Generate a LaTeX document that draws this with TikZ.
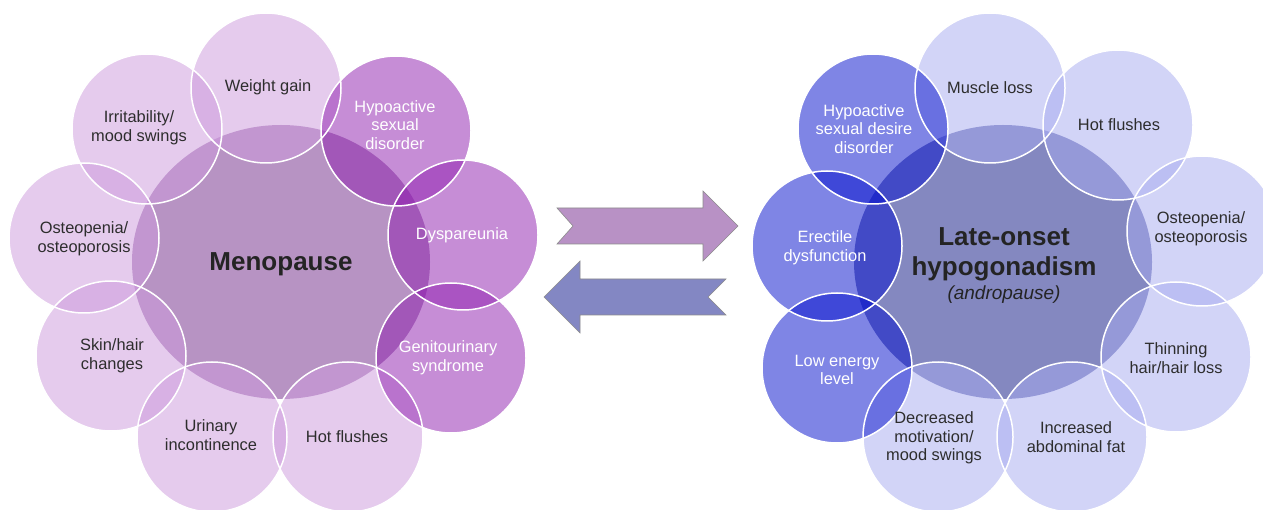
\documentclass[tikz,border=0pt]{standalone}
\usepackage{fontspec}
\setmainfont{Liberation Sans}
\usetikzlibrary{shapes.geometric}
\definecolor{mCenter}{RGB}{183,147,195}
\definecolor{mLight}{RGB}{205,153,221}
\definecolor{mDark}{RGB}{143,29,175}
\definecolor{aCenter}{RGB}{132,136,192}
\definecolor{aLight}{RGB}{167,171,241}
\definecolor{aDark}{RGB}{1,13,205}
\definecolor{txt}{RGB}{45,45,45}
\definecolor{ctxt}{RGB}{36,36,36}
\definecolor{arrA}{RGB}{184,145,197}
\definecolor{arrB}{RGB}{131,135,195}
\definecolor{arrEdge}{RGB}{140,140,140}
\begin{document}
\begin{tikzpicture}[x=1pt,y=-1pt,
  bub/.style={circle, minimum size=150pt, inner sep=0pt, fill opacity=0.5},
  mlight/.style={bub, fill=mLight},
  mdark/.style={bub, fill=mDark},
  alight/.style={bub, fill=aLight},
  adark/.style={bub, fill=aDark},
  lbl/.style={align=center, inner sep=0pt, font=\fontsize{16.4}{18.6}\selectfont},
  dlbl/.style={lbl, text=txt},
  wlbl/.style={lbl, text=white},
  core/.style={ellipse, minimum width=298pt, minimum height=274pt, inner sep=0pt},
  corelbl/.style={align=center, inner sep=0pt, text=ctxt, font=\bfseries\fontsize{26}{30}\selectfont},
  ring/.style={draw=white, line width=1.5pt},
  bigarrow/.style={draw=arrEdge, line width=0.6pt, line join=miter}]
\useasboundingbox (0,0) rectangle (1263,510);
\fill[white] (0,0) rectangle (1263,510);

% ---------- Menopause ----------
\node[core, fill=mCenter] (meno) at (281,262) {};
\node[mlight] (m1) at (266,88) {};
\node[mlight] (m9) at (147,129) {};
\node[mlight] (m8) at (84,238) {};
\node[mlight] (m7) at (111,356) {};
\node[mlight] (m6) at (212,437) {};
\node[mlight] (m5) at (348,437) {};
\node[mdark] (m4) at (451,358) {};
\node[mdark] (m3) at (463,235) {};
\node[mdark] (m2) at (396,131) {};
\foreach \n in {m1,m2,m3,m4,m5,m6,m7,m8,m9}
  \draw[ring] (\n.center) circle[radius=75pt];
\node[corelbl] (menoT) at (281,264) {Menopause};
\node[dlbl] (m1T) at (268,87) {Weight gain};
\node[dlbl] (m9T) at (139,128) {Irritability/\\mood swings};
\node[dlbl] (m8T) at (84,239) {Osteopenia/\\osteoporosis};
\node[dlbl] (m7T) at (112,356) {Skin/hair\\changes};
\node[dlbl] (m6T) at (211,435) {Urinary\\incontinence};
\node[dlbl] (m5T) at (347,437) {Hot flushes};
\node[wlbl] (m4T) at (448,358) {Genitourinary\\syndrome};
\node[wlbl] (m3T) at (462,235) {Dyspareunia};
\node[wlbl] (m2T) at (395,125) {Hypoactive\\sexual\\disorder};

% ---------- Late-onset hypogonadism ----------
\node[core, fill=aCenter] (loh) at (1003,262) {};
\node[alight] (a1) at (990,88) {};
\node[alight] (a2) at (1118,125) {};
\node[alight] (a3) at (1202,231) {};
\node[alight] (a4) at (1176,357) {};
\node[alight] (a5) at (1072,437) {};
\node[alight] (a6) at (938,437) {};
\node[adark] (a7) at (837,368) {};
\node[adark] (a8) at (827,246) {};
\node[adark] (a9) at (873,129) {};
\foreach \n in {a1,a2,a3,a4,a5,a6,a7,a8,a9}
  \draw[ring] (\n.center) circle[radius=75pt];
\node[corelbl] (lohT) at (1004,266)
  {Late-onset\\hypogonadism\\[-6pt]{\mdseries\itshape\fontsize{19}{22}\selectfont (andropause)}};
\node[dlbl] (a1T) at (990,88) {Muscle loss};
\node[dlbl] (a2T) at (1119,125) {Hot flushes};
\node[dlbl] (a3T) at (1201,229) {Osteopenia/\\osteoporosis};
\node[dlbl] (a4T) at (1176,358) {Thinning\\hair/hair loss};
\node[dlbl] (a5T) at (1076,437) {Increased\\abdominal fat};
\node[dlbl] (a6T) at (934,438) {Decreased\\motivation/\\mood swings};
\node[wlbl] (a7T) at (837,370) {Low energy\\level};
\node[wlbl] (a8T) at (825,248) {Erectile\\dysfunction};
\node[wlbl] (a9T) at (864,129) {Hypoactive\\sexual desire\\disorder};

% ---------- arrows ----------
\draw[bigarrow, fill=arrA] (557,208) -- (703,208) -- (703,191) -- (738,226)
  -- (703,261) -- (703,244) -- (557,244) -- (573,226) -- cycle;
\draw[bigarrow, fill=arrB] (726,279) -- (580,279) -- (580,261) -- (544,297)
  -- (580,333) -- (580,315) -- (726,315) -- (708,297) -- cycle;
\end{tikzpicture}
\end{document}
